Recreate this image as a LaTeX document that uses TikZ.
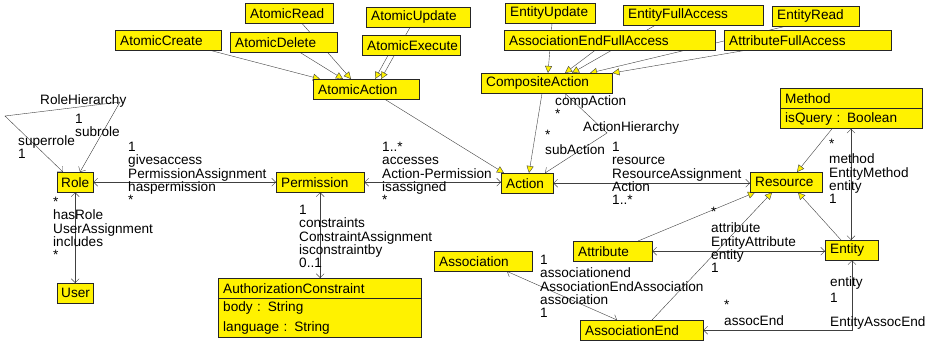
\documentclass[tikz,border=0pt]{standalone}
\usepackage{fontspec}
\setmainfont{Liberation Sans}
\usetikzlibrary{arrows.meta,calc,backgrounds}

\begin{document}
\begin{tikzpicture}[x=1pt,y=-1pt,
        font=\fontsize{13.6}{13.3}\selectfont,
        cls/.style = {draw=black!85, fill=yellow, anchor=north west, align=left,
                      inner xsep=5pt, inner ysep=0pt, minimum height=20pt},
        lbl/.style = {anchor=north west, align=left, inner sep=0pt},
        gen/.style = {draw=black!75, -{Triangle[length=7pt,width=7pt,fill=yellow]}},
        assoc/.style = {draw=black!75,
                        {Straight Barb[length=4pt,width=8pt]}-{Straight Barb[length=4pt,width=8pt]}}]
    \useasboundingbox (0,0) rectangle (928,343);

    % actions
    \node[cls, text width=96pt]  (AtomicCreate)  at (115,30) {AtomicCreate};
    \node[cls, text width=78pt]  (AtomicRead)    at (245,3)  {AtomicRead};
    \node[cls, text width=97pt]  (AtomicDelete)  at (230,32) {AtomicDelete};
    \node[cls, text width=94pt]  (AtomicUpdate)  at (366,7)  {AtomicUpdate};
    \node[cls, text width=88pt]  (AtomicExecute) at (362,35) {AtomicExecute};
    \node[cls, text width=96pt]  (AtomicAction)  at (313,79) {AtomicAction};
    \node[cls, text width=80pt]  (EntityUpdate)  at (505,3)  {EntityUpdate};
    \node[cls, text width=201pt] (AssocEndFullAccess) at (504,30) {AssociationEndFullAccess};
    \node[cls, text width=130pt] (EntityFullAccess)   at (623,5)  {EntityFullAccess};
    \node[cls, text width=77pt]  (EntityRead)    at (772,6)  {EntityRead};
    \node[cls, text width=157pt] (AttrFullAccess) at (724,30) {AttributeFullAccess};
    \node[cls, text width=121pt] (CompositeAction) at (481,73) {CompositeAction};
    \node[cls, text width=42pt]  (Action)        at (501,173) {Action};

    % roles and permissions
    \node[cls, text width=28pt, inner xsep=4pt] (Role) at (57,172) {Role};
    \node[cls, text width=28pt, inner xsep=4pt] (User) at (57,283) {User};
    \node[cls, text width=78pt]  (Permission)    at (276,172) {Permission};
    \node[cls, text width=193pt] (AuthConstraint) at (218,278) {AuthorizationConstraint};
    \node[cls, text width=193pt, minimum height=39pt] (AuthConstraintAttr) at (AuthConstraint.south west)
        {body : String\\[6pt]language : String};

    % resources
    \node[cls, text width=62pt]  (Resource)      at (750,172) {Resource};
    \node[cls, text width=132pt] (Method)        at (780,88)  {Method};
    \node[cls, text width=132pt] (MethodAttr)    at (Method.south west) {isQuery : Boolean};
    \node[cls, text width=43pt]  (Entity)        at (825,240) {Entity};
    \node[cls, text width=69pt]  (Attribute)     at (573,241) {Attribute};
    \node[cls, text width=88pt]  (Association)   at (434,251) {Association};
    \node[cls, text width=113pt] (AssociationEnd) at (580,320) {AssociationEnd};

    \begin{pgfonlayer}{background}
        % generalizations
        \draw[gen] ($(AtomicCreate.south east)+(-11,0)$) -- ($(AtomicAction.north west)+(7,0)$);
        \draw[gen] ($(AtomicDelete.south west)+(70,0)$) -- ($(AtomicAction.north west)+(30,0)$);
        \draw[gen] ($(AtomicRead.south west)+(57,0)$) -- ($(AtomicAction.north west)+(38,0)$);
        \draw[gen] ($(AtomicExecute.south west)+(26,0)$) -- ($(AtomicAction.north west)+(62,0)$);
        \draw[gen] ($(AtomicUpdate.south west)+(44,0)$) -- ($(AtomicAction.north west)+(68,0)$);
        \draw[gen] ($(EntityUpdate.south west)+(47,0)$) -- ($(CompositeAction.north west)+(67,0)$);
        \draw[gen] ($(AssocEndFullAccess.south west)+(91,0)$) -- ($(CompositeAction.north west)+(84,0)$);
        \draw[gen] ($(EntityFullAccess.south west)+(32,0)$) -- ($(CompositeAction.north west)+(91,0)$);
        \draw[gen] ($(EntityRead.south west)+(13,0)$) -- ($(CompositeAction.north west)+(109,0)$);
        \draw[gen] ($(AttrFullAccess.south west)+(21,0)$) -- (CompositeAction.north east);
        \draw[gen] ($(AtomicAction.south west)+(72,0)$) -- ($(Action.north west)+(3,0)$);
        \draw[gen] ($(CompositeAction.south west)+(61,0)$) -- ($(Action.north west)+(28,0)$);
        \draw[gen] ($(MethodAttr.south west)+(52,0)$) -- ($(Resource.north west)+(47,0)$);
        \draw[gen] ($(Attribute.north west)+(65,0)$) -- ($(Resource.south west)+(5,0)$);
        \draw[gen] ($(AssociationEnd.north west)+(72,0)$) -- ($(Resource.south west)+(22,0)$);
        \draw[gen] ($(Entity.north west)+(16,0)$) -- ($(Resource.south west)+(48,0)$);

        % associations
        \coordinate (rhLeft) at (5,116);
        \coordinate (rhTop) at (120,102);
        \coordinate (ahBend) at (607,133);
        \draw[assoc] ($(Role.north west)+(6,0)$) -- (rhLeft) -- (rhTop) -- ($(Role.north west)+(23,0)$);
        \draw[assoc] (Role.east) -- (Permission.west);
        \draw[assoc] (Role.south) -- (User.north);
        \draw[assoc] (Permission.east) -- (Permission.east -| Action.west);
        \draw[assoc] (Permission.south) -- (Permission.south |- AuthConstraint.north);
        \draw[assoc] (Action.east) -- (Action.east -| Resource.west);
        \draw[assoc] ($(CompositeAction.south west)+(84,0)$) -- (ahBend) -- ($(Action.north west)+(44,0)$);
        \draw[assoc] ($(MethodAttr.south west)+(71,0)$) -- ($(Entity.north west)+(26,0)$);
        \draw[assoc] (Attribute.east) -- (Attribute.east -| Entity.west);
        \draw[assoc] ($(Association.south west)+(73,0)$) -- ($(AssociationEnd.north west)+(37,0)$);
        \draw[assoc] ($(Entity.south west)+(27,0)$) |- (AssociationEnd.east);
    \end{pgfonlayer}

    % association ends
    \node[lbl] (rhName)  at (40,94)   {RoleHierarchy};
    \node[lbl] (rhSub)   at (75,114)  {1\\subrole};
    \node[lbl] (rhSuper) at (18,135)  {superrole\\1};
    \node[lbl] (paLbl)   at (128,142) {1\\givesaccess\\PermissionAssignment\\haspermission\\*};
    \node[lbl] (uaLbl)   at (53,197)  {*\\hasRole\\UserAssignment\\includes\\*};
    \node[lbl] (apLbl)   at (382,142) {1..*\\accesses\\Action-Permission\\isassigned\\*};
    \node[lbl] (caLbl)   at (299,205) {1\\constraints\\ConstraintAssignment\\isconstraintby\\0..1};
    \node[lbl] (ahComp)  at (555,95)  {compAction\\*};
    \node[lbl] (ahName)  at (583,121) {ActionHierarchy};
    \node[lbl] (ahSub)   at (545,130) {*\\[2pt]subAction};
    \node[lbl] (raLbl)   at (612,142) {1\\resource\\ResourceAssignment\\Action\\1..*};
    \node[lbl] (emLbl)   at (829,139) {*\\[2pt]method\\EntityMethod\\entity\\1};
    \node[lbl] (eatLbl)  at (711,207) {*\\[3pt]attribute\\EntityAttribute\\entity\\1};
    \node[lbl] (aeaLbl)  at (540,255) {1\\associationend\\AssociationEndAssociation\\association\\1};
    \node[lbl] (eaeEnt)  at (830,276) {entity\\[3pt]1};
    \node[lbl] (eaeName) at (830,316) {EntityAssocEnd};
    \node[lbl] (eaeEnd)  at (724,300) {*\\[3pt]assocEnd};
\end{tikzpicture}
\end{document}
